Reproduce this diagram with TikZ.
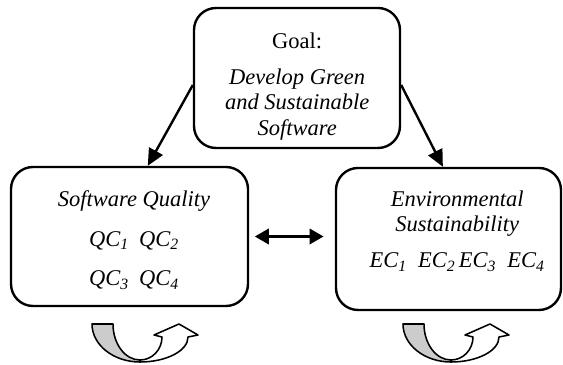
\documentclass[tikz,border=0pt]{standalone}
\usepackage{fontspec}
\setmainfont{Liberation Serif}
\usetikzlibrary{arrows.meta,positioning}

\definecolor{loopgray}{RGB}{204,204,204}

\tikzset{
  box/.style={draw, rounded corners=0.55cm, line width=1.7pt},
  txt/.style={align=center, font=\fontsize{16}{18.3}\selectfont},
  link/.style={-{Triangle[length=12pt,width=11pt]}, line width=1.7pt},
  twoway/.style={{Triangle[length=10pt,width=11pt]}-{Triangle[length=10pt,width=11pt]}, line width=1.7pt},
  loop arrow/.pic={
    % grey back of the turn
    \filldraw[fill=loopgray, line width=1.1pt, line join=round]
      (-1.2,0.95) -- (-0.675,0.95) arc[start angle=180, end angle=270, x radius=0.675, y radius=0.9]
      -- (0,0) arc[start angle=270, end angle=180, x radius=1.2, y radius=0.95] -- cycle;
    % white front with the head
    \filldraw[fill=white, line width=1.1pt, line join=round]
      (0,0) arc[start angle=270, end angle=360, x radius=1.2, y radius=0.625]
      -- (1.45,0.675) -- (0.975,0.95) -- (0.35,0.675) -- (0.55,0.625)
      arc[start angle=0, end angle=-90, x radius=0.55, y radius=0.575] -- cycle;
  }
}

\begin{document}
\begin{tikzpicture}
  \useasboundingbox (0,0) rectangle (14.075,9.125);

  \node[box, minimum width=5.15cm, minimum height=3.5cm] (goal) at (7.425,7.175) {};
  \node[box, minimum width=5.925cm, minimum height=3.475cm] (quality) at (3.2375,3.2125) {};
  \node[box, minimum width=5.625cm, minimum height=3.55cm] (sustain) at (11.2125,3.15) {};

  \node[txt] (goaltext) at (7.43,6.96) {Goal:\\[7pt] \itshape Develop Green\\ \itshape and Sustainable\\ \itshape Software};
  \node[txt] (qualitytext) at (3.35,3.125) {\itshape Software Quality\\[10pt]
    \itshape QC\textsubscript{1}\hspace{0.45em}QC\textsubscript{2}\\[10pt]
    \itshape QC\textsubscript{3}\hspace{0.45em}QC\textsubscript{4}};
  \node[txt] (sustaintext) at (11.43,3.35) {\itshape Environmental\\ \itshape Sustainability\\[7pt]
    \itshape EC\textsubscript{1}\hspace{0.5em}EC\textsubscript{2}\hspace{0.15em}EC\textsubscript{3}\hspace{0.5em}EC\textsubscript{4}};

  \draw[link] ([yshift=-5pt]goal.west) -- ([xshift=13pt]quality.north);
  \draw[link] ([yshift=-5pt]goal.east) -- ([xshift=-4pt]sustain.north);
  \draw[twoway] ([xshift=4pt]quality.east) -- ([xshift=-8pt]quality.east -| sustain.west);

  \pic at (3.5,0.075) {loop arrow};
  \pic at (11.275,0.075) {loop arrow};
\end{tikzpicture}
\end{document}
